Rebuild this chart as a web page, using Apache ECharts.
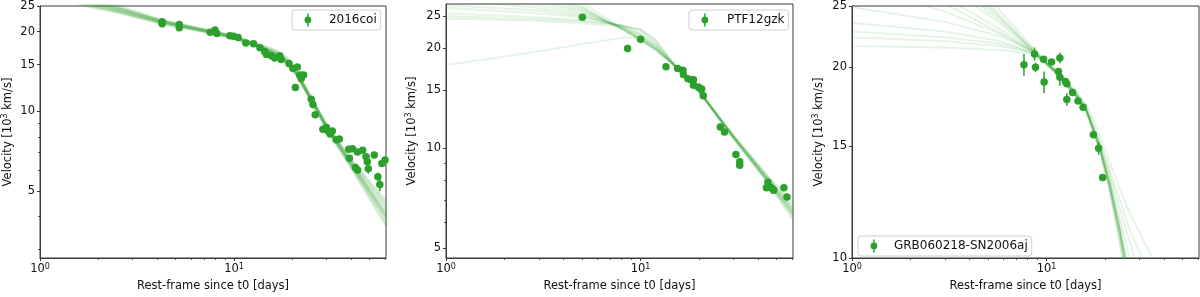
<!DOCTYPE html>
<html><head><meta charset="utf-8">
<script src="https://cdn.jsdelivr.net/npm/echarts@6/dist/echarts.min.js"></script>
<style>html,body{margin:0;padding:0;background:#fff;}#c{width:1200px;height:297px;}</style>
</head><body><div id="c"></div>
<script>
// ---------- tick labels ----------
const xTicks = [1, 10];
const xMinorTicks = [2, 3, 4, 5, 6, 7, 8, 9, 20, 30, 40, 50, 60];
const yTicks1 = [5, 10, 15, 20, 25];
const yMinor1 = [3, 4, 6, 7, 8, 9];
const yTicks2 = [5, 10, 15, 20, 25];
const yMinor2 = [6, 7, 8, 9];
const yTicks3 = [10, 15, 20, 25];

// ---------- names ----------
const names = ['2016coi', 'PTF12gzk', 'GRB060218-SN2006aj'];

// ---------- panel 1 data: 2016coi ----------
const d1x = [4.26, 4.26, 5.22, 5.22, 7.53, 7.98, 8.15, 9.52, 9.93, 10.5, 11.5, 12.6, 13.6, 14.4, 14.7, 15.6, 16.2, 17.2, 17.5, 19.2, 20.1, 21.2, 20.7, 21.8, 22.2, 22.8, 25.0, 25.5, 26.2, 28.7, 29.9, 30.5, 31.3, 32.1, 33.6, 34.9, 39.0, 40.8, 43.3, 46.0, 39.3, 42.2, 43.3, 47.9, 48.6, 49.2, 52.8, 55.1, 56.4, 57.8, 60.0];
const d1v = [21.4, 21.8, 21.3, 20.7, 19.9, 20.3, 19.7, 19.3, 19.2, 19.0, 18.1, 18.0, 17.4, 16.8, 16.4, 16.2, 15.9, 16.2, 15.7, 15.16, 14.5, 14.7, 12.3, 13.7, 13.3, 13.7, 11.1, 10.6, 9.7, 8.56, 8.68, 8.43, 8.2, 8.43, 7.8, 7.86, 7.18, 7.22, 7.02, 7.12, 6.64, 6.13, 6.0, 6.73, 6.45, 6.06, 6.83, 5.66, 5.29, 6.35, 6.54];
const d1e = [0.2, 0.2, 0.25, 0.25, 0.15, 0.2, 0.2, 0.15, 0.15, 0.15, 0.15, 0.15, 0.15, 0.15, 0.15, 0.15, 0.15, 0.15, 0.15, 0.15, 0.2, 0.2, 0.2, 0.2, 0.2, 0.2, 0.15, 0.15, 0.15, 0.1, 0.1, 0.1, 0.1, 0.1, 0.1, 0.1, 0.1, 0.1, 0.1, 0.1, 0.1, 0.1, 0.1, 0.15, 0.15, 0.25, 0.15, 0.2, 0.3, 0.15, 0.15];

// ---------- panel 2 data: PTF12gzk ----------
const d2x = [5.02, 8.57, 10.0, 13.5, 15.5, 16.5, 16.6, 17.5, 18.2, 18.7, 18.7, 19.8, 20.6, 21.0, 25.7, 27.0, 30.9, 32.3, 32.3, 44.3, 45.1, 46.0, 47.4, 48.3, 54.5, 56.5];
const d2v = [24.8, 20.0, 21.3, 17.6, 17.4, 17.2, 16.7, 16.2, 16.1, 16.1, 15.5, 15.3, 15.1, 14.4, 11.6, 11.2, 9.58, 9.11, 8.9, 7.61, 7.91, 7.65, 7.57, 7.48, 7.61, 7.14];
const d2e = [0.2, 0.5, 0.2, 0.15, 0.15, 0.15, 0.15, 0.15, 0.15, 0.15, 0.15, 0.15, 0.15, 0.15, 0.1, 0.1, 0.1, 0.1, 0.1, 0.1, 0.1, 0.1, 0.25, 0.1, 0.1, 0.1];

// ---------- panel 3 data: GRB060218-SN2006aj ----------
const d3x = [7.65, 8.67, 8.77, 9.65, 9.71, 10.6, 11.5, 11.7, 11.7, 12.5, 12.7, 12.7, 13.6, 14.5, 15.4, 17.4, 18.5, 19.4];
const d3v = [20.2, 21.0, 20.0, 20.6, 18.96, 20.4, 19.7, 20.7, 19.3, 19.0, 18.85, 17.8, 18.26, 17.7, 17.3, 15.65, 14.9, 13.4];
const d3e = [0.8, 0.5, 0.35, 0.2, 0.75, 0.2, 0.2, 0.4, 0.6, 0.2, 0.2, 0.4, 0.15, 0.15, 0.15, 0.15, 0.35, 0.15];

// ---------- fit samples (velocity at the shared x points) ----------
const fit1X = [1, 1.8, 2.5, 4.2, 7, 10, 13.6, 16.6, 19, 21, 24.5, 29.8, 39.3, 61];
const fit1 = [
  [29.5, 25.6, 24.2, 21.8, 20.2, 19.1, 17.6, 16.4, 15.3, 13.9, 11.4, 8.8, 6.5, 4.1],
  [30.5, 26.2, 24.6, 22.0, 20.3, 19.1, 17.6, 16.5, 15.4, 14.0, 11.5, 8.9, 6.6, 4.3],
  [28.5, 25.2, 23.9, 21.6, 20.1, 19.0, 17.5, 16.3, 15.2, 13.8, 11.3, 8.7, 6.4, 3.9],
  [31.5, 26.8, 25.0, 22.1, 20.4, 19.2, 17.7, 16.7, 15.5, 14.0, 11.5, 8.9, 6.7, 4.5],
  [28.0, 24.9, 23.7, 21.5, 20.0, 18.9, 17.4, 16.2, 15.1, 13.7, 11.3, 8.7, 6.3, 3.7],
  [30.0, 25.9, 24.4, 21.9, 20.2, 19.1, 17.8, 16.9, 15.8, 14.1, 11.4, 8.8, 6.5, 4.0]
];
const fit2X = [1, 3, 5, 8, 10, 12, 14.6, 20, 30, 45, 60.5];
const fit2 = [
  [40, 31, 27.5, 23.0, 21.2, 19.7, 17.9, 14.8, 10.8, 8.0, 6.4],
  [36, 29.5, 26.8, 22.8, 21.1, 19.8, 18.0, 14.8, 10.8, 8.1, 6.5],
  [33, 28.5, 26.3, 22.9, 21.3, 19.9, 18.0, 14.9, 10.9, 8.1, 6.6],
  [30, 27.5, 25.8, 23.1, 21.5, 20.0, 18.0, 14.8, 10.8, 8.0, 6.4],
  [28, 26.5, 25.2, 23.2, 21.8, 20.2, 18.1, 14.9, 10.9, 8.2, 6.7],
  [26.5, 25.5, 24.8, 23.4, 22.2, 20.5, 18.1, 14.9, 10.9, 8.1, 6.5],
  [25.5, 24.8, 24.3, 23.5, 22.6, 20.8, 18.2, 14.8, 10.7, 7.9, 6.2],
  [24.6, 24.2, 23.8, 23.3, 22.8, 21.2, 18.2, 14.9, 10.9, 8.2, 6.8],
  [17.8, 19.6, 20.6, 21.5, 21.6, 20.3, 18.0, 14.8, 10.8, 8.0, 6.4],
  [31.5, 28.0, 26.0, 23.0, 21.4, 19.9, 18.0, 14.9, 11.0, 8.3, 6.9],
  [27, 26.0, 25.0, 23.3, 22.0, 20.4, 18.1, 14.8, 10.7, 7.9, 6.1],
  [25, 24.5, 24.1, 23.5, 22.8, 21.0, 18.1, 14.9, 10.8, 8.0, 6.3],
  [34, 29.0, 26.5, 22.9, 21.2, 19.8, 17.9, 14.7, 10.7, 7.9, 6.3],
  [29, 27.0, 25.5, 23.2, 21.6, 20.1, 18.0, 14.9, 10.9, 8.2, 6.6]
];
const fit3X = [1, 3, 5.75, 8.5, 11.7, 14.3, 16, 18.8, 21.1, 23.7, 27, 35];
const fit3 = [
  [38, 28.5, 23.9, 21.3, 19.4, 18.0, 17.1, 14.9, 13.1, 11.1, 9.0, 6.0],
  [33, 27.0, 23.5, 21.2, 19.4, 18.0, 17.1, 14.9, 13.0, 11.0, 8.8, 6.0],
  [44, 30.0, 24.2, 21.4, 19.5, 18.1, 17.2, 15.0, 13.2, 11.3, 9.2, 6.5],
  [50, 31.5, 24.6, 21.5, 19.3, 17.9, 17.0, 14.8, 12.9, 10.9, 8.7, 5.5],
  [29, 25.8, 23.0, 21.2, 19.4, 18.0, 17.1, 14.7, 12.7, 10.6, 8.3, 5.0],
  [24.9, 23.6, 22.4, 21.2, 19.5, 18.1, 17.2, 15.1, 13.4, 11.6, 9.8, 7.0],
  [23.5, 22.8, 22.0, 21.1, 19.4, 18.0, 17.1, 14.9, 13.1, 11.2, 9.1, 6.2],
  [22.3, 22.0, 21.6, 21.1, 19.5, 18.2, 17.3, 15.2, 13.6, 12.0, 10.5, 8.0],
  [21.6, 21.5, 21.3, 21.0, 19.3, 17.9, 17.0, 14.8, 12.8, 10.7, 8.4, 5.0],
  [27, 24.5, 22.6, 21.2, 19.4, 18.0, 17.2, 15.3, 13.8, 12.4, 11.0, 9.2],
  [28.5, 25.2, 22.7, 21.2, 19.6, 18.3, 17.5, 15.6, 14.2, 12.9, 11.7, 10.0],
  [22.8, 22.3, 21.8, 21.1, 19.4, 18.0, 17.1, 14.9, 13.0, 11.0, 8.9, 5.8],
  [41, 29.3, 24.0, 21.3, 19.4, 18.0, 17.1, 14.9, 13.0, 11.0, 8.9, 5.9],
  [35, 27.8, 23.7, 21.3, 19.5, 18.1, 17.2, 15.0, 13.2, 11.2, 9.1, 6.2]
];

// ---------- layout ----------
const G = '#2ca02c';
const panels = [
  {left: 39, ymin: 2.79, ymax: 25, yt: yTicks1, ym: yMinor1, nameGap: 25, dx: d1x, dv: d1v, de: d1e, fx: fit1X, fs: fit1, fa: 0.22, fw: 3,
   legend: {left: 292, top: 10, padL: 12.5, txtPad: 12.5}},
  {left: 446, ymin: 4.68, ymax: 27.2, yt: yTicks2, ym: yMinor2, nameGap: 27, dx: d2x, dv: d2v, de: d2e, fx: fit2X, fs: fit2, fa: 0.13, fw: 1.8,
   legend: {left: 689, top: 10, padL: 12.5, txtPad: 13.5}},
  {left: 852, ymin: 10, ymax: 25, yt: yTicks3, ym: [], nameGap: 26, dx: d3x, dv: d3v, de: d3e, fx: fit3X, fs: fit3, fa: 0.13, fw: 1.8,
   legend: {left: 858, top: 236, padL: 12.5, txtPad: 11.5}}
];

const font = 'DejaVu Sans';
const grids = [], xAxes = [], yAxes = [], series = [], legends = [];
const icon = 'path://M-0.75,-6.5L0.75,-6.5L0.75,6.5L-0.75,6.5Z M3.4,0A3.4,3.4 0 1 1 -3.4,0A3.4,3.4 0 1 1 3.4,0Z';

panels.forEach((p, i) => {
  grids.push({left: p.left, top: 4, width: 347, height: 258, show: true, borderColor: '#3a3a3a', borderWidth: 1, backgroundColor: 'transparent'});
  const xi = xAxes.length, yi = yAxes.length;
  xAxes.push({
    type: 'log', logBase: 10, gridIndex: i, min: 1, max: 60.7, position: 'bottom',
    name: 'Rest-frame since t0 [days]', nameLocation: 'middle', nameGap: 22,
    nameTextStyle: {fontFamily: font, fontSize: 11.5, color: '#111'},
    axisLine: {show: true, lineStyle: {color: '#3a3a3a', width: 1}},
    axisTick: {show: true, customValues: xTicks, length: 3, lineStyle: {color: '#3a3a3a'}},
    axisLabel: {customValues: xTicks, margin: 5, fontFamily: font, fontSize: 11.5, color: '#111',
      formatter: v => '10{s|' + Math.round(Math.log10(v)) + '}',
      rich: {s: {fontSize: 8, fontFamily: font, color: '#111', verticalAlign: 'top', lineHeight: 9}}},
    splitLine: {show: false}, minorSplitLine: {show: false}
  });
  xAxes.push({
    type: 'log', logBase: 10, gridIndex: i, min: 1, max: 60.7, position: 'bottom',
    axisLine: {show: false}, axisLabel: {show: false},
    axisTick: {show: true, customValues: xMinorTicks, length: 1.8, lineStyle: {color: '#3a3a3a'}},
    splitLine: {show: false}
  });
  yAxes.push({
    type: 'log', logBase: 10, gridIndex: i, min: p.ymin, max: p.ymax, position: 'left',
    name: 'Velocity [10{s|3} km/s]', nameLocation: 'middle', nameGap: p.nameGap,
    nameTextStyle: {fontFamily: font, fontSize: 11.5, color: '#111', lineHeight: 14,
      rich: {s: {fontSize: 8, fontFamily: font, color: '#111', verticalAlign: 'top', lineHeight: 9}}},
    axisLine: {show: true, lineStyle: {color: '#3a3a3a', width: 1}},
    axisTick: {show: true, customValues: p.yt, length: 3, lineStyle: {color: '#3a3a3a'}},
    axisLabel: {customValues: p.yt, margin: 5, fontFamily: font, fontSize: 11.5, color: '#111',
      formatter: v => String(Math.round(v))},
    splitLine: {show: false}
  });
  yAxes.push({
    type: 'log', logBase: 10, gridIndex: i, min: p.ymin, max: p.ymax, position: 'left',
    axisLine: {show: false}, axisLabel: {show: false},
    axisTick: {show: p.ym.length > 0, customValues: p.ym.length ? p.ym : [p.ymin], length: 1.8, lineStyle: {color: '#3a3a3a'}},
    splitLine: {show: false}
  });
  p.fs.forEach((s, k) => {
    series.push({
      type: 'line', xAxisIndex: xi, yAxisIndex: yi, silent: true, showSymbol: false, symbol: 'none',
      clip: true, z: 1,
      lineStyle: {color: G, opacity: p.fa, width: p.fw},
      data: p.fx.map((x, j) => [x, s[j]])
    });
  });
  series.push({
    type: 'custom', xAxisIndex: xi, yAxisIndex: yi, silent: true, z: 3, clip: true,
    data: p.dx.map((x, j) => [x, p.dv[j] - p.de[j], p.dv[j] + p.de[j]]),
    encode: {x: 0, y: [1, 2]},
    renderItem: (params, api) => {
      const a = api.coord([api.value(0), api.value(1)]);
      const b = api.coord([api.value(0), api.value(2)]);
      return {type: 'line', shape: {x1: a[0], y1: a[1], x2: b[0], y2: b[1]}, style: {stroke: G, lineWidth: 1.5}};
    }
  });
  series.push({
    type: 'scatter', name: names[i], xAxisIndex: xi, yAxisIndex: yi, z: 4, silent: true,
    symbol: 'circle', symbolSize: 7.5, itemStyle: {color: G, opacity: 1},
    data: p.dx.map((x, j) => [x, p.dv[j]])
  });
  legends.push({
    data: [{name: names[i], icon: icon}], left: p.legend.left, top: p.legend.top,
    orient: 'vertical', itemWidth: 7, itemHeight: 13, itemGap: 0,
    padding: [3.5, 4, 3.5, p.legend.padL],
    borderColor: '#d0d0d0', borderWidth: 1, borderRadius: 3, backgroundColor: 'rgba(255,255,255,0.8)',
    selectedMode: false,
    textStyle: {fontFamily: font, fontSize: 12, color: '#111', padding: [0, 0, 0, p.legend.txtPad]},
    itemStyle: {color: G}
  });
});

const chart = echarts.init(document.getElementById('c'), null, {renderer: 'canvas'});
chart.setOption({
  animation: false, backgroundColor: '#fff',
  grid: grids, xAxis: xAxes, yAxis: yAxes, series: series, legend: legends
});
</script></body></html>
